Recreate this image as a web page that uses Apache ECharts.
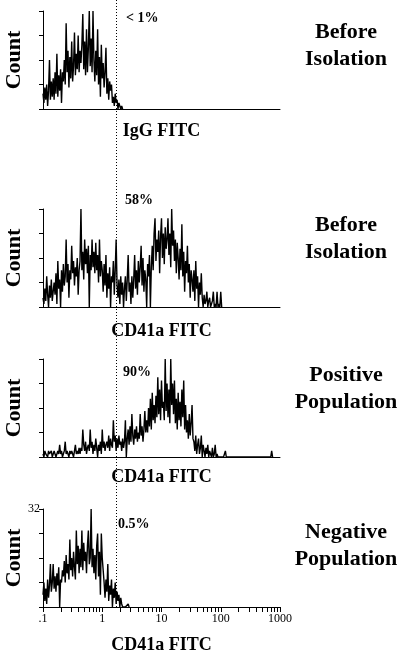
<!DOCTYPE html>
<html><head><meta charset="utf-8">
<script src="https://cdn.jsdelivr.net/npm/echarts@6/dist/echarts.min.js"></script>
<style>html,body{margin:0;padding:0;background:#fff}#c{width:400px;height:659px}</style>
</head><body><div id="c"></div>
<script>
// Channel -> fluorescence: 64 channels per decade, channel 0 = 0.1
const channelsPerDecade = 64;
const xMin = 0.1, xMax = 1000;
const gateValue = 1.7;
const yMax = 32, yInterval = 8;

const panelTitles = ['IgG FITC', 'CD41a FITC', 'CD41a FITC', 'CD41a FITC'];
const panelLabels = ['Before\nIsolation', 'Before\nIsolation', 'Positive\nPopulation', 'Negative\nPopulation'];
const percentLabels = ['< 1%', '58%', '90%', '0.5%'];
const xTickValues = [0.1,0.2,0.3,0.4,0.5,0.6,0.7,0.8,0.9,1,2,3,4,5,6,7,8,9,10,20,30,40,50,60,70,80,90,100,200,300,400,500,600,700,800,900,1000];
const xLabelValues = [0.1, 1, 10, 100, 1000];
const xLabelTexts = ['.1', '1', '10', '100', '1000'];

// counts per channel, starting at channel 0
const countsIgG = [5,2,7,3,8,1,6,16,3,9,4, 10,3,12,5,18,4,11,6,13,2,12, 9,16,8,28,12,19,7,17,10,22,9,
  14,25,11,18,13,24,12,19,15,21,31, 13,22,11,26,12,20,32,14,23,12,32, 16,9,19,11,26,8,17,4,21,10,15,
  7,12,20,5,10,3,9,6,8,2, 4,1,5,2,3,0,2,1,0,1,0];
const countsBefore = [3,1,6,2,10,4,0,7,3,9,2,5, 8,4,11,1,15,6,9,0,12,5,14,7,
  10,22,8,14,3,12,9,20,11,15,7,13,10,16,4,12, 15,32,12,
  18,9,22,14,19,11,20,0,17,12,22,13,18,11,21,12,17,8,22,10,15,
  12,5,14,7,17,3,11,6,13,0,10,8,15,4,12,22,
  7,3,9,1,10,4,8,0,6,10,2,9,17,5,8,1,10,3,9,
  17,6,12,4,15,8,13,20,7,16,5,12,9,0,14,10,17,0,13,
  20,12,24,29,15,22,18,25,11,23,29,16,24,14,26,19,22,
  29,17,24,13,32,20,25,15,22,11,21,
  16,9,19,12,27,10,18,5,15,11,20,8,14,3,12,
  9,5,12,2,15,6,10,0,8,4,11,
  3,0,4,1,2,5,0,2,3,0,1,2,5,0,1,0,5,0,1,0,5,0];
const countsPositive = [1,0,2,1,1,0,2,1,1,2, 0,1,2,1,0,1,2,1,4,1, 2,0,1,2,5,1,2,1,0,2, 1,2,1,0,2,4,1,2,1,3, 1,
  3,2,9,4,2,5,1,3,4,2, 9,3,5,1,4,2,6,3,0,4, 2,5,1,9,3,5,2,4,
  5,3,7,2,6,4,3,12,5,7,2,6,3,7,4,5,2,6,3,5,12,0,
  6,9,4,10,5,14,7,4,9,6,10,5,8,6,14,7,10,5,9,15,8,
  12,8,16,10,19,9,21,12,17,11,20,13,26,14,22,12,25,16,
  18,12,32,15,24,13,22,11,32,17,24,
  14,25,11,19,9,21,12,18,10,22,13,25,9,17,8,
  12,6,14,7,11,17,6,
  5,2,7,1,4,6,1,3,7,0,4,
  2,0,3,1,4,0,2,1,0,3,0,1,4,0,1,
  0,0,0,0,0,0,0,0,2,0,
  0,0,0,0,0,0,0,0,0,0, 0,0,0,0,0,0,0,0,0,0, 0,0,0,0,0,0,0,0,0,0, 0,0,0,0,0,0,0,0,0,0, 0,0,0,0,0,0,0,0,
  2,0];
const countsNegative = [4,8,2,6,1,9,3,7,14,5,8, 14,6,10,5,11,7,13,0,9,8,12,
  10,15,8,17,11,14,9,22,12,16,10,18,13,9,25,
  14,20,11,19,13,25,12,21,15,18,11,20,25,14,
  16,32,13,
  19,11,17,9,20,24,10,18,4,24,16,12,
  8,3,9,5,14,2,7,4,9,0,6,3,8,1,5,
  2,4,0,3,1,0, 0,0,0,0,0,1,0];

const panelCounts = [countsIgG, countsBefore, countsPositive, countsNegative];

const chart = echarts.init(document.getElementById('c'), null, {renderer: 'canvas'});
const font = 'Liberation Serif, Times New Roman, serif';
const gridTops = [11, 209, 359, 509];
const gridH = 98, gridL = 43, gridW = 237;
const nameGaps = [13, 15, 11, 29];

const grids = gridTops.map(t => ({left: gridL, top: t, width: gridW, height: gridH, outerBoundsMode: 'none', containLabel: false}));
grids.push({left: gridL, top: 0, width: gridW, height: 607, outerBoundsMode: 'none', containLabel: false});

const xAxes = gridTops.map((t, i) => {
  const last = i === 3;
  return {
    gridIndex: i, type: 'log', logBase: 10, min: xMin, max: xMax,
    axisLine: {show: true, lineStyle: {color: '#000', width: 1}},
    splitLine: {show: false},
    axisTick: last ? {show: true, inside: false, length: 5, lineStyle: {color: '#000'}, customValues: xTickValues} : {show: false},
    axisLabel: last ? {show: true, margin: 6, color: '#000', fontFamily: font, fontSize: 12,
      customValues: xLabelValues,
      formatter: v => { const k = xLabelValues.findIndex(x => Math.abs(x - v) / x < 1e-6); return k >= 0 ? xLabelTexts[k] : ''; }} : {show: false},
    name: panelTitles[i], nameLocation: 'middle', nameGap: nameGaps[i], nameMoveOverlap: false,
    nameTextStyle: {color: '#000', fontFamily: font, fontWeight: 'bold', fontSize: 18, verticalAlign: 'top'}
  };
});
xAxes.push({gridIndex: 4, type: 'log', logBase: 10, min: xMin, max: xMax, show: false});

const yAxes = gridTops.map((t, i) => ({
  gridIndex: i, type: 'value', min: 0, max: yMax, interval: yInterval,
  axisLine: {show: true, lineStyle: {color: '#000', width: 1}},
  axisTick: {show: true, inside: false, length: 4, lineStyle: {color: '#000'}},
  splitLine: {show: false},
  axisLabel: {show: i === 3, margin: 3, color: '#000', fontFamily: font, fontSize: 12,
    formatter: v => v === yMax ? String(yMax) : ''},
  name: 'Count', nameLocation: 'middle', nameGap: 18, nameRotate: 90, nameMoveOverlap: false,
  nameTextStyle: {color: '#000', fontFamily: font, fontWeight: 'bold', fontSize: 22}
}));
yAxes.push({gridIndex: 4, type: 'value', min: 0, max: 1, show: false});

const series = panelCounts.map((arr, i) => ({
  type: 'line', xAxisIndex: i, yAxisIndex: i, showSymbol: false, symbol: 'none',
  lineStyle: {color: '#000', width: 1.4}, animation: false,
  data: arr.map((c, ch) => [xMin * Math.pow(10, ch / channelsPerDecade), c])
}));
series.push({
  type: 'line', xAxisIndex: 4, yAxisIndex: 4, symbol: 'none', data: [[gateValue, 0]],
  lineStyle: {opacity: 0}, animation: false,
  markLine: {silent: true, symbol: ['none', 'none'], label: {show: false},
    lineStyle: {color: '#000', width: 1, type: [1, 2]},
    data: [{xAxis: gateValue}]}
});

const labelTops = [19, 212, 362, 519];
const pctPos = [[126, 18], [125, 200], [123, 372], [118, 524]];
const graphic = [];
panelLabels.forEach((txt, i) => {
  graphic.push({type: 'text', left: 346 - 60, top: labelTops[i],
    style: {text: txt, x: 60, textAlign: 'center', fill: '#000', font: 'bold 22px ' + font, lineHeight: 27, width: 120}});
});
percentLabels.forEach((txt, i) => {
  graphic.push({type: 'text', x: pctPos[i][0], y: pctPos[i][1],
    style: {text: txt, fill: '#000', font: 'bold 14px ' + font, verticalAlign: 'middle', textAlign: 'left'}});
});

chart.setOption({
  animation: false, backgroundColor: '#fff',
  grid: grids, xAxis: xAxes, yAxis: yAxes, series: series, graphic: graphic
});
</script></body></html>
